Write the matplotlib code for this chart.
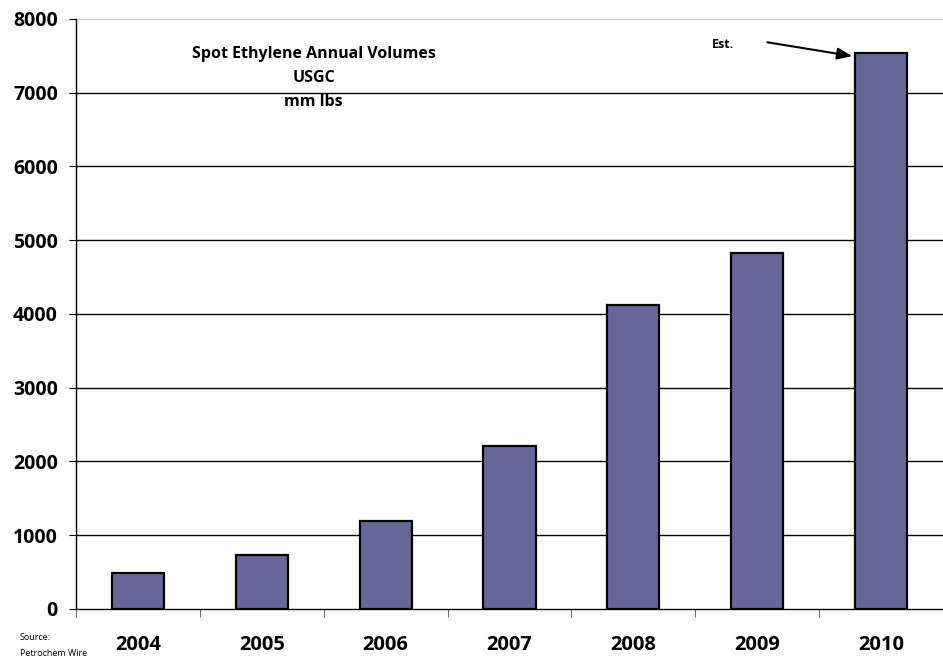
import matplotlib.pyplot as plt
import numpy as np

years = ['2004', '2005', '2006', '2007', '2008', '2009', '2010']
volumes = [490, 730, 1195, 2210, 4120, 4830, 7540]
yticks = [0, 1000, 2000, 3000, 4000, 5000, 6000, 7000, 8000]

plt.rcParams['font.family'] = ['Open Sans', 'DejaVu Sans']

fig = plt.figure(figsize=(9.43, 6.61), dpi=100)
ax = fig.add_axes([0.0806, 0.0787, 0.9194, 0.8926])

x = np.arange(len(years))
ax.bar(x, volumes, width=0.42, color='#666699', edgecolor='black', linewidth=1.6, zorder=3)

ax.set_ylim(0, 8000)
ax.set_xlim(-0.5, 6.48)
ax.set_yticks(yticks)
ax.set_yticklabels([str(v) for v in yticks], fontsize=14, fontweight='bold')
for v in yticks[1:-1]:
    ax.axhline(v, color='black', linewidth=1, zorder=1)
ax.axhline(8000, color='#c8c8c8', linewidth=1.5, zorder=1)

# category labels centred, ticks on boundaries
ax.set_xticks(x)
ax.set_xticklabels(years, fontsize=14.5, fontweight='bold')
ax.tick_params(axis='x', length=0, pad=19)
ax.set_xticks(np.arange(-0.5, len(years), 1.0), minor=True)
ax.tick_params(axis='x', which='minor', length=6, direction='out', color='#555555')
ax.tick_params(axis='y', length=5, direction='out', pad=8)

for s in ['top', 'right']:
    ax.spines[s].set_visible(False)
ax.spines['left'].set_linewidth(1)
ax.spines['bottom'].set_linewidth(1)

ax.text(1.42, 7200, 'Spot Ethylene Annual Volumes\nUSGC\nmm lbs', ha='center', va='center',
        fontsize=11.5, fontweight='bold', linespacing=1.65)

ax.text(4.72, 7650, 'Est.', ha='center', va='center', fontsize=9, fontweight='bold')
ax.annotate('', xy=(5.79, 7490), xytext=(5.06, 7690),
            arrowprops=dict(arrowstyle='-|>,head_length=0.9,head_width=0.35', color='black', lw=1.5))

fig.text(0.021, 0.036, 'Source:', fontsize=6.5, va='center')
fig.text(0.021, 0.011, 'Petrochem Wire', fontsize=6.5, va='center')

fig.savefig('out.png', dpi=100)
